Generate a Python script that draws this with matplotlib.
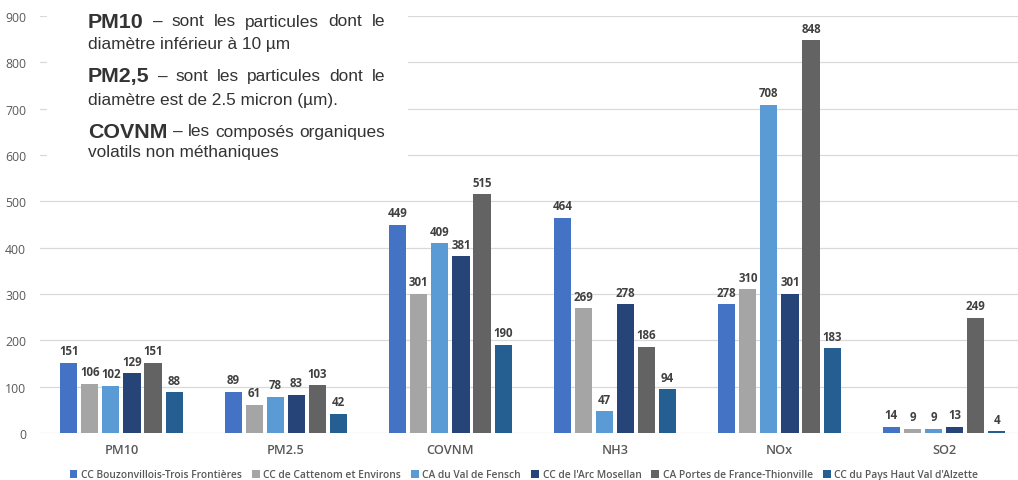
import matplotlib
matplotlib.use("Agg")
import matplotlib.pyplot as plt
import numpy as np
from matplotlib.patches import Rectangle, Patch

categories = ["PM10", "PM2.5", "COVNM", "NH3", "NOx", "SO2"]
series_names = [
    "CC Bouzonvillois-Trois Frontières",
    "CC de Cattenom et Environs",
    "CA du Val de Fensch",
    "CC de l'Arc Mosellan",
    "CA Portes de France-Thionville",
    "CC du Pays Haut Val d'Alzette",
]
bouzonvillois = [151, 89, 449, 464, 278, 14]
cattenom = [106, 61, 301, 269, 310, 9]
fensch = [102, 78, 409, 47, 708, 9]
arc_mosellan = [129, 83, 381, 278, 301, 13]
portes_france = [151, 103, 515, 186, 848, 249]
pays_haut = [88, 42, 190, 94, 183, 4]
series_values = [bouzonvillois, cattenom, fensch, arc_mosellan, portes_france, pays_haut]
colors = ["#4472C4", "#A5A5A5", "#5B9BD5", "#264478", "#636363", "#255E91"]
y_ticks = [0, 100, 200, 300, 400, 500, 600, 700, 800, 900]

W, H = 1018, 481
fig = plt.figure(figsize=(W / 100, H / 100), dpi=100)
fig.patch.set_facecolor("white")
ax = fig.add_axes([40 / W, (H - 434) / H, (1018 - 40) / W, (434 - 17) / H])

x = np.arange(len(categories))
slot = 0.128
bw = 0.104
for i, (vals, c) in enumerate(zip(series_values, colors)):
    pos = x + (i - 2.5) * slot
    bars = ax.bar(pos, vals, width=bw, color=c, zorder=3, label=series_names[i])
    for b, v in zip(bars, vals):
        ax.text(b.get_x() + b.get_width() / 2, v + 12, str(v), ha="center", va="bottom",
                fontsize=8.3, fontweight="bold", color="#404040", family="Open Sans", zorder=4)

ax.set_xlim(-0.495, 5.45)
ax.set_ylim(0, 900)
ax.set_yticks(y_ticks)
ax.yaxis.grid(True, color="#D9D9D9", linewidth=0.9, zorder=0)
ax.set_axisbelow(True)
for s in ax.spines.values():
    s.set_visible(False)
ax.tick_params(axis="both", length=0)
ax.set_yticklabels([str(t) for t in y_ticks], fontsize=8.8, color="#595959", family="Open Sans")
ax.tick_params(axis="y", pad=10)
ax.set_xticks(x)
ax.set_xticklabels(categories, fontsize=9.2, color="#595959", family="Open Sans", fontweight="semibold")
ax.tick_params(axis="x", pad=7)

handles = [Patch(facecolor=c) for c in colors]
fig.legend(handles, series_names, loc="center", bbox_to_anchor=(524 / W, (H - 476) / H), ncol=6,
           frameon=False, handlelength=0.75, handleheight=0.75, handletextpad=0.35,
           columnspacing=1.0, prop={"family": "Open Sans", "size": 7.35, "weight": "semibold"},
           labelcolor="#595959")

# white overlay box with explanatory text
fig.patches.append(Rectangle((47 / W, (H - 165) / H), (408 - 47) / W, 165 / H,
                             transform=fig.transFigure, facecolor="white", edgecolor="none", zorder=5))

fig.canvas.draw()
renderer = fig.canvas.get_renderer()
left_px, right_px = 88, 385
lines = [
    ("PM10", "– sont les particules dont le", 22, True),
    (None, "diamètre inférieur à 10 µm", 44, False),
    ("PM2,5", "– sont les particules dont le", 77, True),
    (None, "diamètre est de 2.5 micron (µm).", 100, False),
    ("COVNM", "– les composés organiques", 132, True),
    (None, "volatils non méthaniques", 152, False),
]
fam = ["Liberation Sans", "DejaVu Sans"]
fs_norm, fs_bold = 12.4, 15.4
for bold, rest, ypx, justify in lines:
    yf = (H - ypx) / H
    if bold is None:
        fig.text(left_px / W, yf, rest, fontsize=fs_norm, color="#333333", family=fam,
                 va="center", ha="left", zorder=6)
        continue
    tb = fig.text(left_px / W, yf, bold, fontsize=fs_bold, fontweight="bold", color="#333333",
                  family=fam, va="center", ha="left", zorder=6)
    bw_px = tb.get_window_extent(renderer).width
    words = rest.split(" ")
    widths = []
    txts = []
    for w in words:
        t = fig.text(0, yf, w, fontsize=fs_norm, color="#333333", family=fam, va="center", ha="left", zorder=6)
        widths.append(t.get_window_extent(renderer).width)
        txts.append(t)
    start = left_px + bw_px
    avail = right_px - start - sum(widths)
    gap = avail / len(words)
    cur = start + gap
    for t, wd in zip(txts, widths):
        t.set_x(cur / W)
        cur += wd + gap

fig.savefig("out.png", dpi=100)
